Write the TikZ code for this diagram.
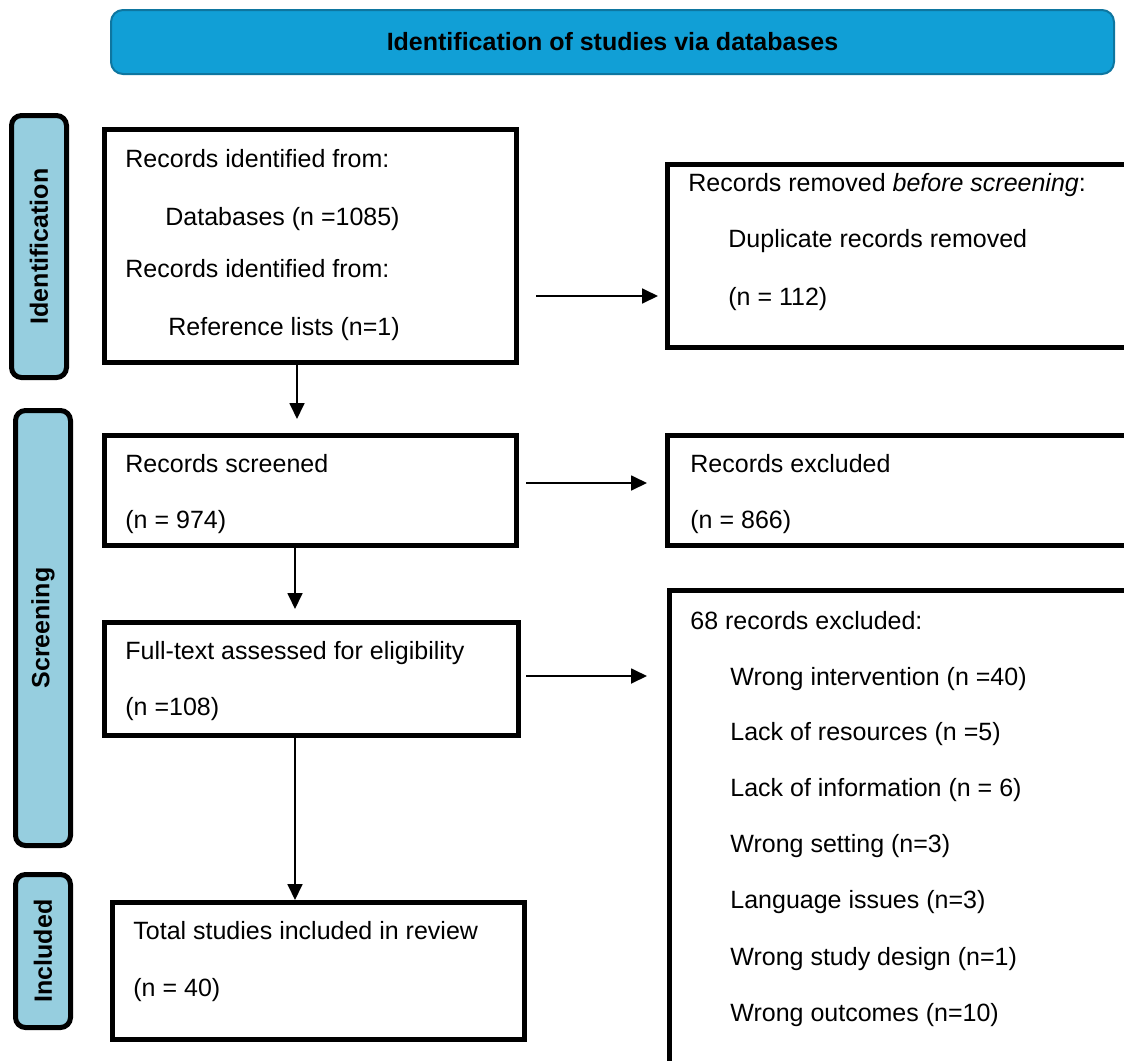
\documentclass[tikz,border=0pt]{standalone}
\usepackage{fontspec}
\setmainfont{Liberation Sans}
\usetikzlibrary{arrows.meta,positioning,calc}
\definecolor{bannerblue}{RGB}{17,159,214}
\definecolor{bannerline}{RGB}{14,118,160}
\definecolor{sideblue}{RGB}{150,206,223}
\newcommand{\flowfont}{\fontsize{12.5}{15}\selectfont}

\begin{document}
\begin{tikzpicture}[x=0.5pt,y=-0.5pt,font=\flowfont,>={Triangle[length=8pt,width=7.5pt]},
    box/.style={draw,line width=2.5pt,inner sep=0pt},
    side/.style={draw,line width=2.5pt,rounded corners=5pt,fill=sideblue,inner sep=0pt,minimum width=27.5pt},
    sidetxt/.style={rotate=90,font=\flowfont\bfseries},
    txt/.style={anchor=west,inner sep=0pt,text height=10pt,text depth=1pt},
    arr/.style={->,line width=0.9pt}]
                      \useasboundingbox (0,0) rectangle (1124,1060);
                      \clip (0,0) rectangle (1124,1060);

                      \node[draw=bannerline,fill=bannerblue,line width=1pt,rounded corners=6pt,minimum width=501.5pt,minimum height=32pt,font=\flowfont\bfseries] (banner) at (612.5,42) {Identification of studies via databases};

                      \node[side,minimum height=131pt] (idside) at (39,246.5) {};
                      \node[side,minimum height=217.5pt] (scrside) at (43,628) {};
                      \node[side,minimum height=76.5pt] (incside) at (43,951) {};
                      \node[sidetxt] (idlbl) at (idside) {Identification};
                      \node[sidetxt] (scrlbl) at (scrside) {Screening};
                      \node[sidetxt] (inclbl) at (incside) {Included};

                      \node[box,minimum width=206pt,minimum height=116.5pt] (ident) at (310.5,246) {};
                      \node[box,minimum width=235pt,minimum height=91.5pt] (removed) at (902.5,256) {};
                      \node[box,minimum width=206pt,minimum height=55pt] (screened) at (310.5,490.5) {};
                      \node[box,minimum width=235pt,minimum height=55pt] (excluded) at (902.5,490.5) {};
                      \node[box,minimum width=207pt,minimum height=56.5pt] (fulltext) at (311.5,679) {};
                      \node[box,minimum width=234pt,minimum height=253.5pt] (reasons) at (903.5,844) {};
                      \node[box,minimum width=206pt,minimum height=68.5pt] (total) at (318.5,971) {};

                      \node[txt] (id1) at (125,158) {Records identified from:};
                      \node[txt] (id2) at (165,216) {Databases (n =1085)};
                      \node[txt] (id3) at (125,268) {Records identified from:};
                      \node[txt] (id4) at (168,326) {Reference lists (n=1)};

                      \node[txt] (rm1) at (688,182) {Records removed \textit{before screening}:};
                      \node[txt] (rm2) at (728,238) {Duplicate records removed};
                      \node[txt] (rm3) at (728,296) {(n = 112)};

                      \node[txt] (sc1) at (125,463) {Records screened};
                      \node[txt] (sc2) at (125,519) {(n = 974)};
                      \node[txt] (ex1) at (690,463) {Records excluded};
                      \node[txt] (ex2) at (690,519) {(n = 866)};

                      \node[txt] (ft1) at (125,650) {Full-text assessed for eligibility};
                      \node[txt] (ft2) at (125,706) {(n =108)};

                      \node[txt] (rs0) at (690,620) {68 records excluded:};
                      \node[txt] (rs1) at (730,676) {Wrong intervention (n =40)};
                      \node[txt] (rs2) at (730,731) {Lack of resources (n =5)};
                      \node[txt] (rs3) at (730,787) {Lack of information (n = 6)};
                      \node[txt] (rs4) at (730,843) {Wrong setting (n=3)};
                      \node[txt] (rs5) at (730,899) {Language issues (n=3)};
                      \node[txt] (rs6) at (730,956) {Wrong study design (n=1)};
                      \node[txt] (rs7) at (730,1012) {Wrong outcomes (n=10)};

                      \node[txt] (tt1) at (133,930) {Total studies included in review};
                      \node[txt] (tt2) at (133,987) {(n = 40)};

                      \draw[arr,shorten <=8.5pt,shorten >=3.5pt] (ident.east |- 0,296) -- (removed.west |- 0,296);
                      \draw[arr,shorten <=3.5pt,shorten >=9pt] (screened.east |- 0,483) -- (excluded.west |- 0,483);
                      \draw[arr,shorten <=2.5pt,shorten >=10pt] (fulltext.east |- 0,676) -- (reasons.west |- 0,676);
                      \draw[arr,shorten >=7pt] (ident.south -| 297,0) -- (screened.north -| 297,0);
                      \draw[arr,shorten >=5.5pt] (screened.south -| 295,0) -- (fulltext.north -| 295,0);
                      \draw[arr] (fulltext.south -| 295,0) -- (total.north -| 295,0);
                    \end{tikzpicture}
\end{document}
